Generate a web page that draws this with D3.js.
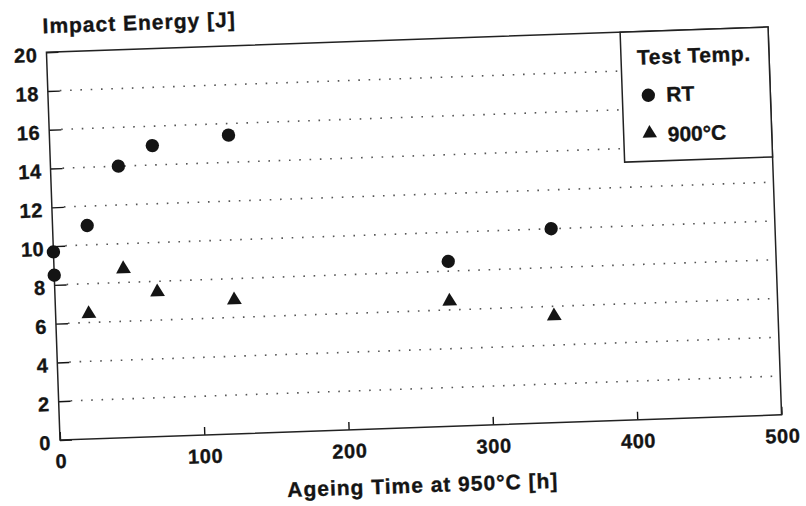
<!DOCTYPE html>
<html lang="en">
<head>
    <meta charset="UTF-8">
    <title>Impact Energy</title>
    <script src="https://cdnjs.cloudflare.com/ajax/libs/d3/7.8.0/d3.min.js"></script>
    <style>
        body { margin: 0; background: #fff; }
        text { font-family: "Liberation Sans", Arial, sans-serif; font-weight: bold; fill: #141414; stroke: #141414; stroke-width: 0.35px; }
    </style>
</head>
<body>

    <svg id="viz" width="806" height="506"></svg>

    <script>
        // values
        const rtHours   = [0, 0, 24, 47, 71, 124, 273, 345];
        const rtEnergy  = [9.7, 8.5, 11.0, 14.0, 15.0, 15.4, 8.5, 10.0];
        const hotHours  = [23, 48, 71, 124, 273, 345];
        const hotEnergy = [6.45, 8.7, 7.45, 6.9, 6.45, 5.5];
        const xTicks = [0, 100, 200, 300, 400, 500];
        const yTicks = [0, 2, 4, 6, 8, 10, 12, 14, 16, 18, 20];
        const gridTicks = [2, 4, 6, 8, 10, 12, 14, 16, 18];

        let width = 722, height = 388;
        let ink = "#141414";

        let svg = d3.select('#viz');
        // the scan is tilted about 2 degrees
        let g = svg.append("g")
            .attr("transform", "translate(60,440) rotate(-2) translate(0," + (-height) + ")");

        let x = d3.scaleLinear().domain([0, 500]).range([0, width]);
        let y = d3.scaleLinear().domain([0, 20]).range([height, 0]);

        // dotted grid
        g.selectAll(".grid").data(gridTicks).enter().append("line")
            .attr("class", "grid")
            .attr("x1", 12).attr("x2", width)
            .attr("y1", d => y(d)).attr("y2", d => y(d))
            .attr("stroke", "#555")
            .attr("stroke-width", 1.6)
            .attr("stroke-dasharray", "1.6 8.7");

        let yAxis = g.append("g")
            .call(d3.axisLeft(y).tickValues(yTicks).tickSizeInner(-12).tickSizeOuter(0).tickPadding(9));
        yAxis.selectAll("text").attr("dy", "0.45em");

        let xAxis = g.append("g")
            .attr("transform", "translate(0," + height + ")")
            .call(d3.axisBottom(x).tickValues(xTicks).tickSizeInner(-8).tickSizeOuter(0).tickPadding(14));

        [yAxis, xAxis].forEach(a => {
            a.select(".domain").remove();
            a.selectAll("line").attr("stroke", ink).attr("stroke-width", 1.4);
            a.selectAll("text")
                .style("font-size", "20px")
                .style("letter-spacing", "0.6px")
                .attr("fill", ink);
        });

        g.append("rect")
            .attr("width", width).attr("height", height)
            .attr("fill", "none")
            .attr("stroke", "#222")
            .attr("stroke-width", 1.5);

        // legend box
        let legend = g.append("g").attr("transform", "translate(574,0)");
        legend.append("rect")
            .attr("width", 148).attr("height", 130)
            .attr("fill", "#fff")
            .attr("stroke", "#222")
            .attr("stroke-width", 1.5);
        legend.append("text")
            .attr("x", 16).attr("y", 33)
            .style("font-size", "21px")
            .style("letter-spacing", "0.6px")
            .text("Test Temp.");
        legend.append("path")
            .attr("transform", "translate(26,64)")
            .attr("d", d3.symbol(d3.symbolCircle, 140)())
            .attr("fill", ink);
        legend.append("text")
            .attr("x", 44).attr("y", 71)
            .style("font-size", "21px")
            .text("RT");
        legend.append("path")
            .attr("transform", "translate(26,102)")
            .attr("d", d3.symbol(d3.symbolTriangle, 90)())
            .attr("fill", ink);
        legend.append("text")
            .attr("x", 44).attr("y", 111)
            .style("font-size", "21px")
            .text("900°C");

        // data markers
        g.selectAll(".rt").data(rtHours).enter().append("path")
            .attr("class", "rt")
            .attr("transform", (d, i) => "translate(" + x(d) + "," + y(rtEnergy[i]) + ")")
            .attr("d", d3.symbol(d3.symbolCircle, 140)())
            .attr("fill", ink);

        g.selectAll(".hot").data(hotHours).enter().append("path")
            .attr("class", "hot")
            .attr("transform", (d, i) => "translate(" + x(d) + "," + y(hotEnergy[i]) + ")")
            .attr("d", d3.symbol(d3.symbolTriangle, 95)())
            .attr("fill", ink);

        // axis titles
        g.append("text")
            .attr("x", x(250)).attr("y", height + 65)
            .attr("text-anchor", "middle")
            .style("font-size", "21px")
            .style("letter-spacing", "1px")
            .text("Ageing Time at 950°C [h]");

        g.append("text")
            .attr("x", -3).attr("y", -19)
            .style("font-size", "21px")
            .style("letter-spacing", "1px")
            .text("Impact Energy [J]");
    </script>
</body>
</html>
